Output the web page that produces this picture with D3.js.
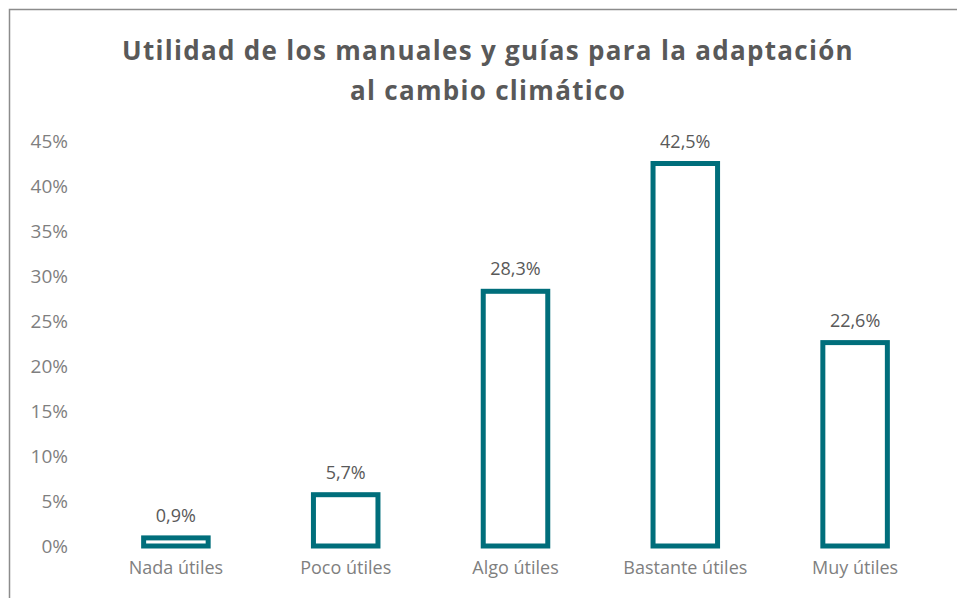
<!DOCTYPE html>
<html>
<head>
<meta charset="utf-8">
<script src="https://cdn.jsdelivr.net/npm/d3@7"></script>
<style>
  body { margin: 0; background: #fff; }
  svg { display: block; font-family: "Open Sans", sans-serif; }
</style>
</head>
<body>
<svg id="chart" width="957" height="598"></svg>
<script>
// data
var categories = ["Nada útiles", "Poco útiles", "Algo útiles", "Bastante útiles", "Muy útiles"];
var values = [0.9, 5.7, 28.3, 42.5, 22.6];
var yTicks = [0, 5, 10, 15, 20, 25, 30, 35, 40, 45];
var titleLines = ["Utilidad de los manuales y guías para la adaptación", "al cambio climático"];

var svg = d3.select("#chart");
var teal = "#006e7b";

// outer chart border (right and bottom run off the picture)
svg.append("rect").attr("x", 9.5).attr("y", 9.5).attr("width", 1000).attr("height", 1000)
  .attr("fill", "none").attr("stroke", "#8c8c8c").attr("stroke-width", 1.5);

var x = d3.scaleBand().domain(categories).range([91, 940]).paddingInner(0.62).paddingOuter(0.31);
var y = d3.scaleLinear().domain([0, 45]).range([546, 141]);

svg.append("g").selectAll("text").data(titleLines).join("text")
  .attr("x", 488).attr("y", function (d, i) { return 60 + i * 40; })
  .attr("text-anchor", "middle").attr("fill", "#595959")
  .style("font-size", "26px").style("font-weight", "bold").style("letter-spacing", "1.3px")
  .text(function (d) { return d; });

// y axis labels only, no line or ticks
var yAxis = svg.append("g").attr("transform", "translate(68,0)")
  .call(d3.axisLeft(y).tickValues(yTicks).tickSize(0).tickPadding(0).tickFormat(function (d) { return d + "%"; }));
yAxis.select(".domain").remove();
yAxis.selectAll("text").attr("fill", "#7f7f7f").style("font-size", "19px").style("font-family", "Open Sans");

var xAxis = svg.append("g").attr("transform", "translate(0,561)")
  .call(d3.axisBottom(x).tickSize(0).tickPadding(0));
xAxis.select(".domain").remove();
xAxis.selectAll("text").attr("fill", "#7f7f7f").style("font-size", "18px").style("font-family", "Open Sans");

svg.append("g").selectAll("rect").data(values).join("rect")
  .attr("x", function (d, i) { return x(categories[i]); })
  .attr("y", function (d) { return y(d); })
  .attr("width", x.bandwidth())
  .attr("height", function (d) { return y(0) - y(d); })
  .attr("fill", "#fff").attr("stroke", teal).attr("stroke-width", 5);

svg.append("g").selectAll("text").data(values).join("text")
  .attr("x", function (d, i) { return x(categories[i]) + x.bandwidth() / 2; })
  .attr("y", function (d) { return y(d) - 16; })
  .attr("text-anchor", "middle").attr("fill", "#595959")
  .style("font-size", "18px")
  .text(function (d) { return d3.format(".1f")(d).replace(".", ",") + "%"; });
</script>
</body>
</html>
